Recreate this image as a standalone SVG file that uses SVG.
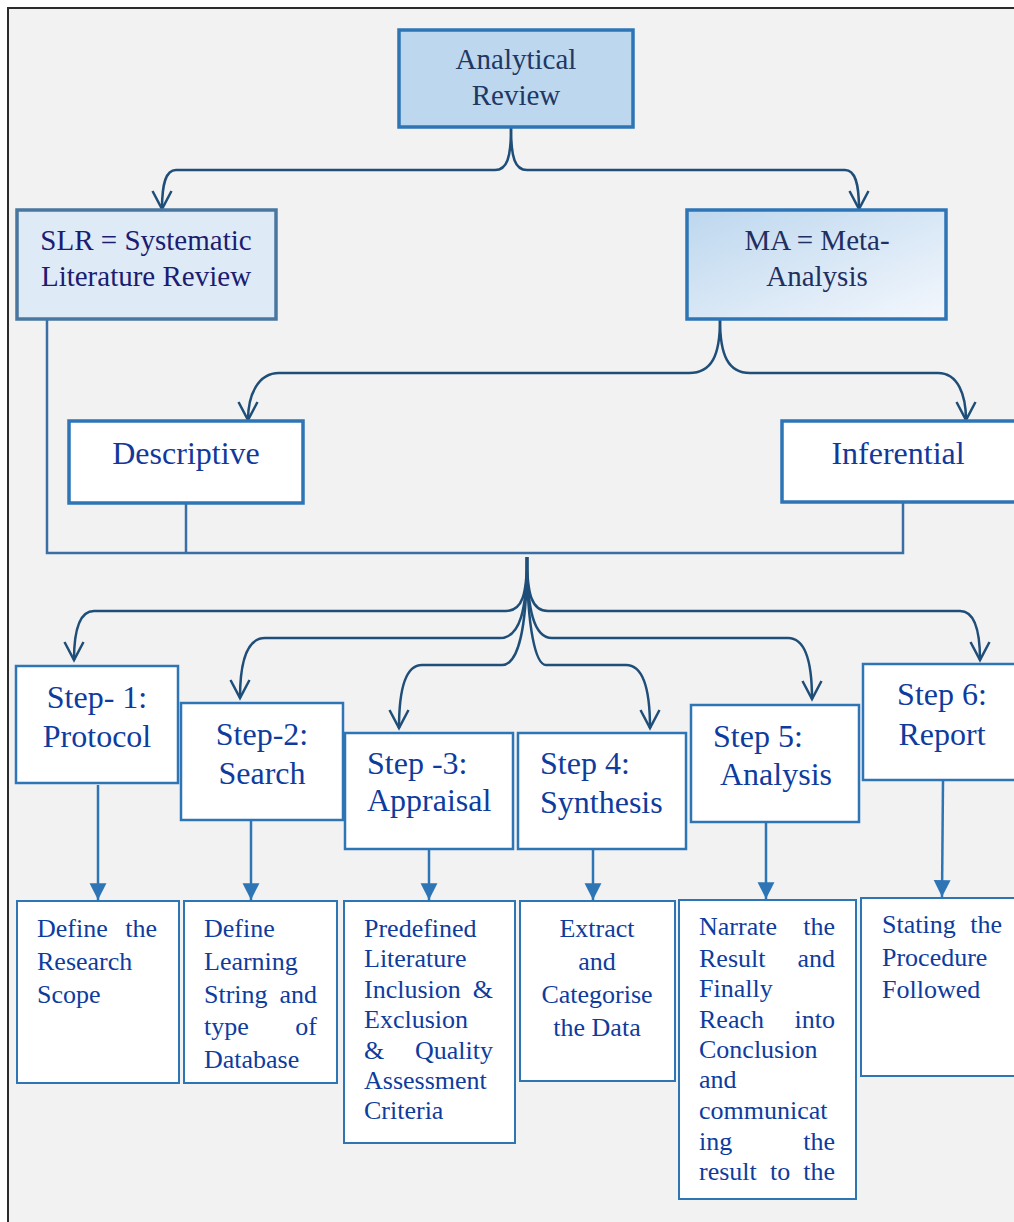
<svg xmlns="http://www.w3.org/2000/svg" width="1014" height="1222" viewBox="0 0 1014 1222">
<style>
.t{font-family:"Liberation Serif","Times New Roman",serif}
.top{font-size:29px;text-anchor:middle}
.mid{font-size:32px;text-anchor:middle;fill:#12399a}
.st{font-size:32px;fill:#0e3c9e}
.bt{font-size:26px;fill:#0e3c9e}
.e{text-anchor:end}
.c{text-anchor:middle}
.stepbox{fill:#fff;stroke:#2e75b6;stroke-width:2.5}
.botbox{fill:#fff;stroke:#2e75b6;stroke-width:2}
.brace{fill:none;stroke:#1f4e79;stroke-width:2.5;marker-end:url(#v)}
.ln{fill:none;stroke:#3a6ea5;stroke-width:2.5}
.down{fill:none;stroke:#2e75b6;stroke-width:2.5;marker-end:url(#tri)}
</style>
<defs>
<marker id="v" markerUnits="userSpaceOnUse" markerWidth="24" markerHeight="24" viewBox="-20 -12 22 24" refX="0" refY="0" orient="auto" overflow="visible">
<path d="M-18,-9.5 L0,0 L-18,9.5" fill="none" stroke="#1f4e79" stroke-width="2.5"/>
</marker>
<marker id="tri" markerUnits="userSpaceOnUse" markerWidth="18" markerHeight="18" viewBox="-15 -8 16 16" refX="0" refY="0" orient="auto" overflow="visible">
<path d="M-15,-7.5 L0,0 L-15,7.5 Z" fill="#2e75b6"/>
</marker>
<linearGradient id="maGrad" x1="0" y1="0" x2="1" y2="1">
<stop offset="0" stop-color="#bdd7ee"/>
<stop offset="1" stop-color="#f3f7fd"/>
</linearGradient>
</defs>
<rect x="0" y="0" width="1014" height="1222" fill="#fff"/>
<rect x="8" y="8" width="1030" height="1240" fill="#f2f2f2" stroke="#2b2b2b" stroke-width="2"/>

<g id="connectors">
<path class="brace" d="M511,128 C511,158 507,170 495,170 L176,170 C166,170 162,183 162,209"/>
<path class="brace" d="M511,128 C511,158 515,170 527,170 L845,170 C855,170 859,183 859,209"/>
<path class="brace" d="M720,320 C720,355 712,373 689,373 L279,373 C258,373 248,395 248,420"/>
<path class="brace" d="M720,320 C720,355 728,373 750,373 L938,373 C958,373 966,395 966,420"/>
<path class="ln" d="M47,320 L47,553 L903,553 L903,503"/>
<path class="ln" d="M186,504 L186,553"/>
<path class="brace" d="M527,557 C527,595 522,611 506,611 L94,611 C80,611 74,630 74,660"/>
<path class="brace" d="M527,557 C527,595 532,611 548,611 L960,611 C974,611 980,630 980,660"/>
<path class="brace" d="M527,557 C527,610 520,638 500,638 L265,638 C248,638 240,660 240,698"/>
<path class="brace" d="M527,557 C527,610 534,638 552,638 L788,638 C805,638 812,660 812,699"/>
<path class="brace" d="M527,557 C527,630 518,665 502,665 L422,665 C405,665 399,690 399,728"/>
<path class="brace" d="M527,557 C527,630 536,665 546,665 L626,665 C643,665 650,690 650,728"/>
<path class="down" d="M98,785 L98,900"/>
<path class="down" d="M251,821 L251,900"/>
<path class="down" d="M429,850 L429,900"/>
<path class="down" d="M593,850 L593,900"/>
<path class="down" d="M766,822 L766,899"/>
<path class="down" d="M943,781 L942,897"/>
</g>

<g id="analytical-review">
<rect x="399" y="30" width="234" height="97" fill="#bdd7ee" stroke="#2e75b6" stroke-width="3.5"/>
<text class="t top" x="516" y="69" fill="#1f3864">Analytical</text>
<text class="t top" x="516" y="105" fill="#1f3864">Review</text>
</g>
<g id="slr">
<rect x="17" y="210" width="259" height="109" fill="#deebf7" stroke="#4a77a0" stroke-width="3.5"/>
<text class="t top" x="146" y="250" fill="#1c1c70">SLR = Systematic</text>
<text class="t top" x="146" y="286" fill="#1c1c70">Literature Review</text>
</g>
<g id="ma">
<rect x="687" y="210" width="259" height="109" fill="url(#maGrad)" stroke="#2e75b6" stroke-width="3.5"/>
<text class="t top" x="817" y="250" fill="#1f2f60">MA = Meta-</text>
<text class="t top" x="817" y="286" fill="#1f2f60">Analysis</text>
</g>
<g id="descriptive">
<rect x="69" y="421" width="234" height="82" fill="#fff" stroke="#2e75b6" stroke-width="3.5"/>
<text class="t mid" x="186" y="464">Descriptive</text>
</g>
<g id="inferential">
<rect x="782" y="421" width="240" height="81" fill="#fff" stroke="#2e75b6" stroke-width="3.5"/>
<text class="t mid" x="898" y="464">Inferential</text>
</g>

<g id="step1">
<rect class="stepbox" x="16" y="666" width="162" height="117"/>
<text class="t st c" x="97" y="708">Step- 1:</text>
<text class="t st c" x="97" y="747">Protocol</text>
</g>
<g id="step2">
<rect class="stepbox" x="181" y="703" width="162" height="117"/>
<text class="t st c" x="262" y="745">Step-2:</text>
<text class="t st c" x="262" y="784">Search</text>
</g>
<g id="step3">
<rect class="stepbox" x="345" y="733" width="168" height="116"/>
<text class="t st" x="367" y="774">Step -3:</text>
<text class="t st" x="367" y="811">Appraisal</text>
</g>
<g id="step4">
<rect class="stepbox" x="518" y="733" width="168" height="116"/>
<text class="t st" x="540" y="774">Step 4:</text>
<text class="t st" x="540" y="813">Synthesis</text>
</g>
<g id="step5">
<rect class="stepbox" x="691" y="705" width="168" height="117"/>
<text class="t st" x="713" y="747">Step 5:</text>
<text class="t st" x="720" y="785">Analysis</text>
</g>
<g id="step6">
<rect class="stepbox" x="863" y="664" width="160" height="116"/>
<text class="t st c" x="942" y="705">Step 6:</text>
<text class="t st c" x="942" y="745">Report</text>
</g>

<g id="box1">
<rect class="botbox" x="17" y="901" width="162" height="182"/>
<text class="t bt" x="37" y="937">Define</text><text class="t bt e" x="157" y="937">the</text>
<text class="t bt" x="37" y="970">Research</text>
<text class="t bt" x="37" y="1003">Scope</text>
</g>
<g id="box2">
<rect class="botbox" x="184" y="901" width="153" height="182"/>
<text class="t bt" x="204" y="937">Define</text>
<text class="t bt" x="204" y="970">Learning</text>
<text class="t bt" x="204" y="1003">String</text><text class="t bt e" x="317" y="1003">and</text>
<text class="t bt" x="204" y="1035">type</text><text class="t bt e" x="317" y="1035">of</text>
<text class="t bt" x="204" y="1068">Database</text>
</g>
<g id="box3">
<rect class="botbox" x="344" y="901" width="171" height="242"/>
<text class="t bt" x="364" y="937">Predefined</text>
<text class="t bt" x="364" y="967">Literature</text>
<text class="t bt" x="364" y="998">Inclusion</text><text class="t bt e" x="493" y="998">&amp;</text>
<text class="t bt" x="364" y="1028">Exclusion</text>
<text class="t bt" x="364" y="1059">&amp;</text><text class="t bt e" x="493" y="1059">Quality</text>
<text class="t bt" x="364" y="1089">Assessment</text>
<text class="t bt" x="364" y="1119">Criteria</text>
</g>
<g id="box4">
<rect class="botbox" x="520" y="901" width="155" height="180"/>
<text class="t bt c" x="597" y="937">Extract</text>
<text class="t bt c" x="597" y="970">and</text>
<text class="t bt c" x="597" y="1003">Categorise</text>
<text class="t bt c" x="597" y="1036">the Data</text>
</g>
<g id="box5">
<rect class="botbox" x="679" y="900" width="177" height="299"/>
<text class="t bt" x="699" y="935">Narrate</text><text class="t bt e" x="835" y="935">the</text>
<text class="t bt" x="699" y="967">Result</text><text class="t bt e" x="835" y="967">and</text>
<text class="t bt" x="699" y="997">Finally</text>
<text class="t bt" x="699" y="1028">Reach</text><text class="t bt e" x="835" y="1028">into</text>
<text class="t bt" x="699" y="1058">Conclusion</text>
<text class="t bt" x="699" y="1088">and</text>
<text class="t bt" x="699" y="1119">communicat</text>
<text class="t bt" x="699" y="1150">ing</text><text class="t bt e" x="835" y="1150">the</text>
<text class="t bt" x="699" y="1180">result</text><text class="t bt" x="770" y="1180">to</text><text class="t bt e" x="835" y="1180">the</text>
</g>
<g id="box6">
<rect class="botbox" x="861" y="898" width="165" height="178"/>
<text class="t bt" x="882" y="933">Stating</text><text class="t bt e" x="1002" y="933">the</text>
<text class="t bt" x="882" y="966">Procedure</text>
<text class="t bt" x="882" y="998">Followed</text>
</g>
</svg>
